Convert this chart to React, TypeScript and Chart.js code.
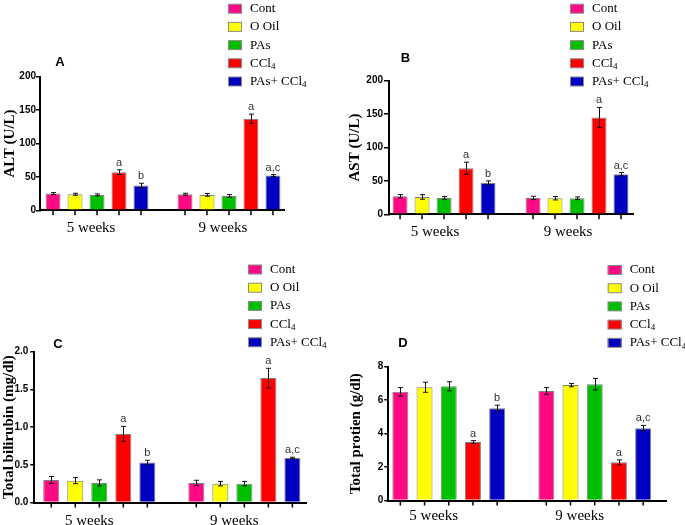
import React, { useEffect, useRef } from 'react';
import { Chart, registerables } from 'chart.js';

Chart.register(...registerables);

// ---------- data ----------
const groupLabels = ['5 weeks', '9 weeks'];
const seriesNames = ['Cont', 'O Oil', 'PAs', 'CCl4', 'PAs+ CCl4'];
const seriesColors = ['#FF0A84', '#FFFF00', '#00BE00', '#FF0000', '#0000C0'];
const letters5wk = ['', '', '', 'a', 'b'];
const letters9wk = ['', '', '', 'a', 'a,c'];

// ALT (U/L)
const altMean5wk = [25, 24, 23, 57, 37];
const altSem5wk = [1.5, 1.5, 1.5, 3.5, 3.5];
const altMean9wk = [24, 23, 21.5, 137, 52];
const altSem9wk = [1.5, 2, 2, 7, 1.5];
const altAxisTicks = [0, 50, 100, 150, 200];

// AST (U/L)
const astMean5wk = [27, 26, 24.5, 69, 47];
const astSem5wk = [2.5, 3.5, 2, 9, 3];
const astMean9wk = [24.5, 24, 24, 145, 60];
const astSem9wk = [2.5, 2.5, 2, 15, 2.5];
const astAxisTicks = [0, 50, 100, 150, 200];

// Total bilirubin (mg/dl)
const tbMean5wk = [0.3, 0.29, 0.26, 0.91, 0.53];
const tbSem5wk = [0.045, 0.04, 0.04, 0.1, 0.03];
const tbMean9wk = [0.26, 0.25, 0.25, 1.65, 0.59];
const tbSem9wk = [0.035, 0.03, 0.03, 0.13, 0.01];
const tbAxisTicks = [0, 0.5, 1.0, 1.5, 2.0];

// Total protein (g/dl)
const tpMean5wk = [6.5, 6.77, 6.83, 3.5, 5.52];
const tpSem5wk = [0.25, 0.3, 0.27, 0.08, 0.18];
const tpMean9wk = [6.55, 6.9, 6.95, 2.28, 4.32];
const tpSem9wk = [0.2, 0.1, 0.35, 0.15, 0.17];
const tpAxisTicks = [0, 2, 4, 6, 8];

// ---------- panel layout ----------
const W = 685;
const H = 525;
const CH = 570; // canvas height (taller than page, clipped by container)
const XAXIS_H = 40;

const panels = [
  {
    key: 'A', yTitle: 'ALT (U/L)', mean5: altMean5wk, sem5: altSem5wk, mean9: altMean9wk, sem9: altSem9wk,
    yTicks: altAxisTicks, decimals: 0,
    padLeft: 0, axisLeft: 40, right: 284, top: 76.7, bottom: 210.3,
    xMin: -0.432, xMax: 1.417, catPct: 0.833, barPct: 0.68,
    yTitlePad: 1, tickLen: 4, tickPad: 0, xLabelPad: 9, labelOffset: -6,
    titlePos: [60, 62], legendPos: [228, 8.7],
  },
  {
    key: 'B', yTitle: 'AST (U/L)', mean5: astMean5wk, sem5: astSem5wk, mean9: astMean9wk, sem9: astSem9wk,
    yTicks: astAxisTicks, decimals: 0,
    padLeft: 340, axisLeft: 389, right: 633, top: 80.7, bottom: 214.3,
    xMin: -0.414, xMax: 1.421, catPct: 0.827, barPct: 0.68,
    yTitlePad: 6, tickLen: 5, tickPad: 1, xLabelPad: 9, labelOffset: -9,
    titlePos: [405.5, 58], legendPos: [570, 8.7],
  },
  {
    key: 'C', yTitle: 'Total bilirubin (mg/dl)', mean5: tbMean5wk, sem5: tbSem5wk, mean9: tbMean9wk, sem9: tbSem9wk,
    yTicks: tbAxisTicks, decimals: 1,
    padLeft: 0, axisLeft: 34.3, right: 306.7, top: 351.7, bottom: 502.5,
    xMin: -0.448, xMax: 1.43, catPct: 0.828, barPct: 0.667,
    yTitlePad: 0, tickLen: 4, tickPad: 2, xLabelPad: 10, labelOffset: -10,
    titlePos: [58, 344], legendPos: [248, 269.5],
  },
  {
    key: 'D', yTitle: 'Total protien (g/dl)', mean5: tpMean5wk, sem5: tpSem5wk, mean9: tpMean9wk, sem9: tpSem9wk,
    yTicks: tpAxisTicks, decimals: 0,
    padLeft: 340, axisLeft: 388.3, right: 666.7, top: 366.7, bottom: 500.5,
    xMin: -0.414, xMax: 1.493, catPct: 0.829, barPct: 0.66,
    yTitlePad: 6.7, tickLen: 4, tickPad: 1, xLabelPad: 7, labelOffset: -15,
    titlePos: [403, 343], legendPos: [607.7, 270],
  },
];

function drawRichText(ctx: CanvasRenderingContext2D, text: string, x: number, y: number) {
  const parts = text.split(/(\d+)/).filter((t) => t.length > 0);
  let cx = x;
  for (const part of parts) {
    const isSub = /^\d+$/.test(part);
    ctx.font = isSub ? '9px "Liberation Serif"' : '13px "Liberation Serif"';
    ctx.fillText(part, cx, isSub ? y + 3.5 : y);
    cx += ctx.measureText(part).width;
  }
}

function makeDeco(p: any) {
  return {
    id: 'deco',
    afterDatasetsDraw(chart: any) {
      const ctx = chart.ctx;
      const ys = chart.scales.y;
      ctx.save();
      chart.data.datasets.forEach((ds: any, i: number) => {
        const meta = chart.getDatasetMeta(i);
        meta.data.forEach((bar: any, j: number) => {
          const m = ds.data[j].y;
          const e = ds.errors[j];
          const yT = ys.getPixelForValue(m + e);
          const yB = ys.getPixelForValue(m - e);
          const x = Math.round(bar.x) + 0.5;
          ctx.strokeStyle = '#111';
          ctx.lineWidth = 1;
          ctx.beginPath();
          ctx.moveTo(x, yT);
          ctx.lineTo(x, yB);
          ctx.moveTo(x - 2.5, yT);
          ctx.lineTo(x + 2.5, yT);
          ctx.moveTo(x - 2.5, yB);
          ctx.lineTo(x + 2.5, yB);
          ctx.stroke();
          const L = ds.letters[j];
          if (L) {
            ctx.fillStyle = '#333';
            ctx.font = '11px "Liberation Sans"';
            ctx.textAlign = 'center';
            ctx.textBaseline = 'alphabetic';
            ctx.fillText(L, bar.x, yT - 4);
          }
        });
      });
      ctx.restore();
    },
    afterDraw(chart: any) {
      const ctx = chart.ctx;
      const area = chart.chartArea;
      ctx.save();
      // tick marks under each bar
      ctx.strokeStyle = '#000';
      ctx.lineWidth = 1.5;
      chart.data.datasets.forEach((_ds: any, i: number) => {
        const meta = chart.getDatasetMeta(i);
        meta.data.forEach((bar: any) => {
          ctx.beginPath();
          ctx.moveTo(bar.x, area.bottom);
          ctx.lineTo(bar.x, area.bottom + 5);
          ctx.stroke();
        });
      });
      // legend
      const [lx, ly] = p.legendPos;
      seriesNames.forEach((name, s) => {
        const y = ly + s * 18.2;
        ctx.fillStyle = seriesColors[s];
        ctx.fillRect(lx, y - 4.5, 14, 9);
        ctx.strokeStyle = '#8a8a8a';
        ctx.lineWidth = 1;
        ctx.strokeRect(lx + 0.5, y - 4.5, 13, 9);
        ctx.fillStyle = '#000';
        ctx.textAlign = 'left';
        ctx.textBaseline = 'middle';
        drawRichText(ctx, name, lx + 22, y);
      });
      // panel letter
      ctx.fillStyle = '#000';
      ctx.font = 'bold 13px "Liberation Sans"';
      ctx.textAlign = 'center';
      ctx.textBaseline = 'middle';
      ctx.fillText(p.key, p.titlePos[0], p.titlePos[1]);
      ctx.restore();
    },
  };
}

function buildConfig(p: any): any {
  const datasets = seriesNames.map((name, s) => ({
    label: name,
    data: [
      { x: 0, y: p.mean5[s] },
      { x: 1, y: p.mean9[s] },
    ],
    errors: [p.sem5[s], p.sem9[s]],
    letters: [letters5wk[s], letters9wk[s]],
    backgroundColor: seriesColors[s],
    borderColor: '#7f7f7f',
    borderWidth: 1,
    categoryPercentage: p.catPct,
    barPercentage: p.barPct,
  }));
  const yMax = p.yTicks[p.yTicks.length - 1];
  return {
    type: 'bar',
    data: { datasets },
    options: {
      responsive: false,
      animation: false,
      devicePixelRatio: 1,
      layout: {
        padding: { left: p.padLeft, right: W - p.right, top: p.top, bottom: CH - p.bottom - XAXIS_H },
      },
      plugins: { legend: { display: false }, tooltip: { enabled: false } },
      scales: {
        x: {
          type: 'linear',
          offset: false,
          min: p.xMin,
          max: p.xMax,
          grid: { display: false, drawTicks: false, offset: false },
          border: { display: true, color: '#000', width: 2 },
          afterBuildTicks: (s: any) => {
            s.ticks = groupLabels.map((_l, i) => ({ value: i }));
          },
          afterFit: (s: any) => {
            s.height = XAXIS_H;
          },
          ticks: {
            callback: (_v: any, i: number) => groupLabels[i],
            font: { family: 'Liberation Serif', size: 15 },
            color: '#000',
            padding: p.xLabelPad,
            labelOffset: p.labelOffset,
            maxRotation: 0,
            autoSkip: false,
          },
        },
        y: {
          min: p.yTicks[0],
          max: yMax,
          grid: { drawOnChartArea: false, drawTicks: true, tickLength: p.tickLen, color: '#000', lineWidth: 1.5 },
          border: { display: true, color: '#000', width: 2 },
          afterBuildTicks: (s: any) => {
            s.ticks = p.yTicks.map((v: number) => ({ value: v }));
          },
          afterFit: (s: any) => {
            s.width = p.axisLeft - p.padLeft;
          },
          ticks: {
            callback: (v: any) => Number(v).toFixed(p.decimals),
            font: { family: 'Liberation Sans', size: 10, weight: 'bold' },
            color: '#000',
            padding: p.tickPad,
          },
          title: {
            display: true,
            text: p.yTitle,
            font: { family: 'Liberation Serif', size: 15, weight: 'bold' },
            color: '#000',
            padding: { top: p.yTitlePad, bottom: 0 },
          },
        },
      },
    },
    plugins: [makeDeco(p)],
  };
}

function Panel({ spec }: { spec: any }) {
  const ref = useRef<HTMLCanvasElement | null>(null);
  useEffect(() => {
    if (!ref.current) return;
    const chart = new Chart(ref.current, buildConfig(spec));
    return () => chart.destroy();
  }, [spec]);
  return (
    <canvas
      ref={ref}
      width={W}
      height={CH}
      style={{ position: 'absolute', left: 0, top: 0, width: W, height: CH }}
    />
  );
}

export default function App() {
  return (
    <div style={{ position: 'absolute', left: 0, top: 0, width: W, height: H, background: '#fff', overflow: 'hidden' }}>
      {panels.map((p) => (
        <Panel key={p.key} spec={p} />
      ))}
    </div>
  );
}
